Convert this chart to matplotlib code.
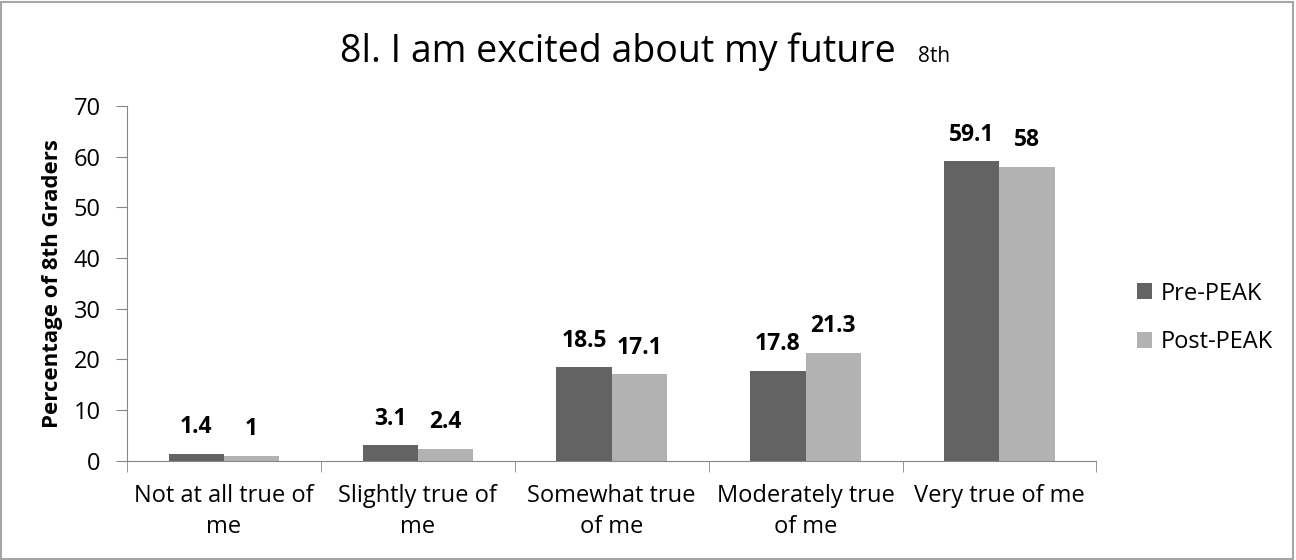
import numpy as np
import matplotlib
matplotlib.use("Agg")
import matplotlib.pyplot as plt
from matplotlib.patches import Rectangle

plt.rcParams["font.family"] = ["Open Sans", "DejaVu Sans"]

categories = ["Not at all true of\nme", "Slightly true of\nme", "Somewhat true\nof me",
              "Moderately true\nof me", "Very true of me"]
pre_peak = [1.4, 3.1, 18.5, 17.8, 59.1]
post_peak = [1, 2.4, 17.1, 21.3, 58]
pre_labels = ["1.4", "3.1", "18.5", "17.8", "59.1"]
post_labels = ["1", "2.4", "17.1", "21.3", "58"]

PRE_COLOR = "#636363"
POST_COLOR = "#b2b2b2"
AXIS_COLOR = "#868686"

fig = plt.figure(figsize=(12.96, 5.6), dpi=100)
ax = fig.add_axes([0.098, 0.177, 0.748, 0.634])

x = np.arange(len(categories))
w = 0.285
b1 = ax.bar(x - w / 2, pre_peak, w, color=PRE_COLOR, label="Pre-PEAK")
b2 = ax.bar(x + w / 2, post_peak, w, color=POST_COLOR, label="Post-PEAK")

for bars, labs in ((b1, pre_labels), (b2, post_labels)):
    for r, s in zip(bars, labs):
        ax.annotate(s, (r.get_x() + r.get_width() / 2, r.get_height()),
                    xytext=(0, 19), textcoords="offset points",
                    ha="center", va="center", fontsize=16.5, fontweight="bold")

ax.set_xlim(-0.5, len(categories) - 0.5)
ax.set_ylim(0, 70)
ax.set_yticks(range(0, 71, 10))
ax.set_xticks(x)
ax.set_xticklabels(categories, fontsize=17, linespacing=1.35)
ax.set_xticks(np.arange(-0.5, len(categories)), minor=True)
ax.tick_params(axis="x", which="major", length=0, pad=17)
ax.tick_params(axis="x", which="minor", length=8, color=AXIS_COLOR, direction="out")
ax.tick_params(axis="y", length=8, color=AXIS_COLOR, labelsize=17, pad=11)

for side in ("top", "right"):
    ax.spines[side].set_visible(False)
for side in ("left", "bottom"):
    ax.spines[side].set_color(AXIS_COLOR)

ax.set_ylabel("Percentage of 8th Graders", fontsize=16, fontweight="bold")
ax.yaxis.set_label_coords(-0.066, 0.5)

fig.text(0.477, 0.889, "8l. I am excited about my future", ha="center", va="baseline",
         fontsize=27)
fig.text(0.708, 0.889, "8th", ha="left", va="baseline", fontsize=15)

ax.legend(loc="center left", bbox_to_anchor=(1137 / 1296, 1 - 318 / 560),
          bbox_transform=fig.transFigure, frameon=False, fontsize=17,
          borderpad=0, borderaxespad=0,
          handlelength=0.65, handleheight=0.65, labelspacing=1.05, handletextpad=0.35)

fig.add_artist(Rectangle((0.001, 0.002), 0.997, 0.995, transform=fig.transFigure,
                         fill=False, edgecolor="#a6a6a6", lw=1.5))

fig.savefig("out.png", dpi=100)
